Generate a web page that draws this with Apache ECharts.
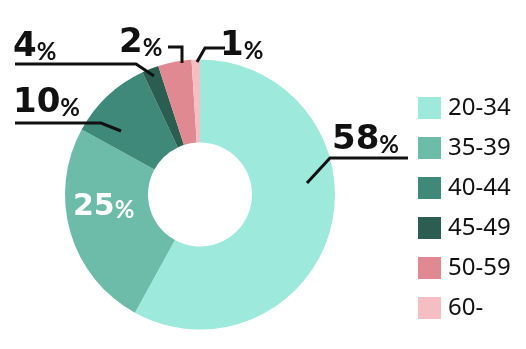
<!DOCTYPE html>
<html>
<head>
<meta charset="utf-8">
<script src="https://cdn.jsdelivr.net/npm/echarts@6/dist/echarts.min.js"></script>
<style>html,body{margin:0;padding:0;background:#fff}#c{width:526px;height:349px}</style>
</head>
<body>
<div id="c"></div>
<script>
// Data
const categories = ['20-34', '35-39', '40-44', '45-49', '50-59', '60-'];
const values = [58, 25, 10, 2, 4, 1];           // wedge sizes as drawn
const labelNumbers = ['58', '25', '10', '4', '2', '1']; // printed label numbers
const colors = ['#9DEADC', '#6CBCA9', '#3F897A', '#2B5E51', '#E08990', '#F5BEC3'];

// Label placement (layout only)
const labelPos = [
  {x: 332, y: 157, line: [[307, 183], [330, 158], [408, 158]]},
  {x: 73, y: 222, line: null},
  {x: 13, y: 120, line: [[121, 131], [101, 123], [15, 123]]},
  {x: 13, y: 64, line: [[154, 76], [136, 64], [15, 64]]},
  {x: 119, y: 60, line: [[182, 63], [182, 47], [168, 47]]},
  {x: 220, y: 63, line: [[197, 62], [205, 48], [225, 48]]}
];

const chart = echarts.init(document.getElementById('c'), null, {renderer: 'canvas'});
const pieData = categories.map((c, i) => ({name: c, value: values[i], itemStyle: {color: colors[i]}}));
const labelData = categories.map((c, i) => {
  const d = {name: c, value: values[i]};
  if (i === 1) {
    d.label = {
      position: 'inside', color: '#fff',
      rich: {
        n: {fontFamily: 'DejaVu Sans', fontWeight: 'bold', fontSize: 30, lineHeight: 36, verticalAlign: 'bottom'},
        p: {fontFamily: 'Lato', fontWeight: 700, fontSize: 24, lineHeight: 34, verticalAlign: 'bottom'}
      }
    };
    d.labelLine = {show: false};
  }
  return d;
});

const pieGeom = {type: 'pie', center: [200, 194.5], radius: [52, 135], startAngle: 90, clockwise: true};

chart.setOption({
  animation: false,
  legend: {
    orient: 'vertical',
    left: 413,
    top: 91,
    itemWidth: 23,
    itemHeight: 22,
    itemGap: 16,
    icon: 'rect',
    data: categories,
    textStyle: {fontFamily: 'Noto Sans', fontSize: 24, color: '#111', padding: [0, 0, 0, 2]}
  },
  series: [
    Object.assign({}, pieGeom, {
      name: 'share',
      z: 1,
      data: pieData,
      label: {show: false},
      labelLine: {show: false},
      emphasis: {disabled: true}
    }),
    Object.assign({}, pieGeom, {
      name: 'labels',
      z: 3,
      silent: true,
      avoidLabelOverlap: false,
      data: labelData,
      itemStyle: {color: 'rgba(0,0,0,0)'},
      label: {
        show: true,
        position: 'outside',
        color: '#111',
        formatter: p => '{n|' + labelNumbers[p.dataIndex] + '}{p|%}',
        rich: {
          n: {fontFamily: 'DejaVu Sans', fontWeight: 'bold', fontSize: 34, lineHeight: 40, verticalAlign: 'bottom'},
          p: {fontFamily: 'Lato', fontWeight: 700, fontSize: 24, lineHeight: 34, verticalAlign: 'bottom'}
        }
      },
      labelLine: {show: true, showAbove: true, smooth: false, lineStyle: {color: '#111', width: 3}},
      emphasis: {disabled: true},
      labelLayout: function (params) {
        const lp = labelPos[params.dataIndex];
        const o = {x: lp.x, y: lp.y, align: 'left', verticalAlign: 'bottom'};
        if (lp.line) o.labelLinePoints = lp.line;
        return o;
      }
    })
  ]
});
</script>
</body>
</html>
